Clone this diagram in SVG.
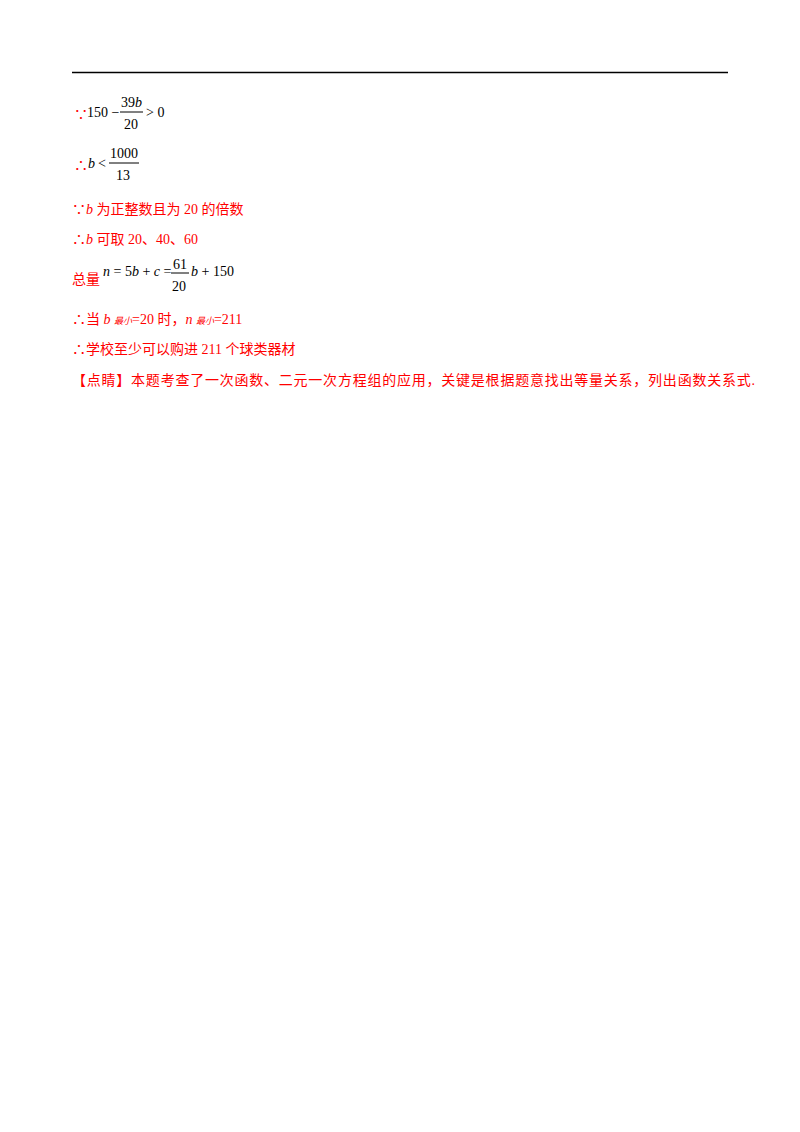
<svg xmlns="http://www.w3.org/2000/svg" width="800" height="1132" viewBox="0 0 800 1132">
<style>
.r{fill:#ff0000;font-family:"Liberation Serif","Noto Sans CJK SC",serif;font-size:14px}
.m{fill:#000;font-family:"Liberation Serif",serif;font-size:14px}
.s{font-size:9px}
.i{font-style:italic}
</style>
<rect width="800" height="1132" fill="#fff"/>
<line x1="72" y1="72.5" x2="728" y2="72.5" stroke="#000" stroke-width="1.5"/>
<g id="l1">
<text class="r" x="74" y="119">∵</text>
<text class="m" x="87" y="117">150 −</text>
<text class="m" x="121" y="107">39<tspan class="i">b</tspan></text>
<line x1="120" y1="112" x2="143" y2="112" stroke="#000"/>
<text class="m" x="124" y="129">20</text>
<text class="m" x="146" y="117">&gt; 0</text>
</g>
<g id="l2">
<text class="r" x="74" y="170">∴</text>
<text class="m i" x="88" y="168">b</text>
<text class="m" x="98" y="168">&lt;</text>
<text class="m" x="110" y="158">1000</text>
<line x1="109" y1="163" x2="139" y2="163" stroke="#000"/>
<text class="m" x="116" y="180">13</text>
</g>
<text class="r" x="72" y="214">∵<tspan class="i">b</tspan> 为正整数且为 20 的倍数</text>
<text class="r" x="72" y="244">∴<tspan class="i">b</tspan> 可取 20、40、60</text>
<g id="l5">
<text class="r" x="72" y="284">总量</text>
<text class="m" x="103" y="276"><tspan class="i">n</tspan> = 5<tspan class="i">b</tspan> + <tspan class="i">c</tspan> =</text>
<text class="m" x="173" y="269">61</text>
<line x1="171" y1="273" x2="189" y2="273" stroke="#000"/>
<text class="m" x="172" y="291">20</text>
<text class="m" x="191" y="276"><tspan class="i">b</tspan> + 150</text>
</g>
<text class="r" x="72" y="324">∴当 <tspan class="i">b</tspan> <tspan class="s i">最小</tspan>=20 时，<tspan class="i">n</tspan> <tspan class="s i">最小</tspan>=211</text>
<text class="r" x="72" y="354">∴学校至少可以购进 211 个球类器材</text>
<text class="r" x="72" y="385" textLength="683">【点睛】本题考查了一次函数、二元一次方程组的应用，关键是根据题意找出等量关系，列出函数关系式.</text>
</svg>
